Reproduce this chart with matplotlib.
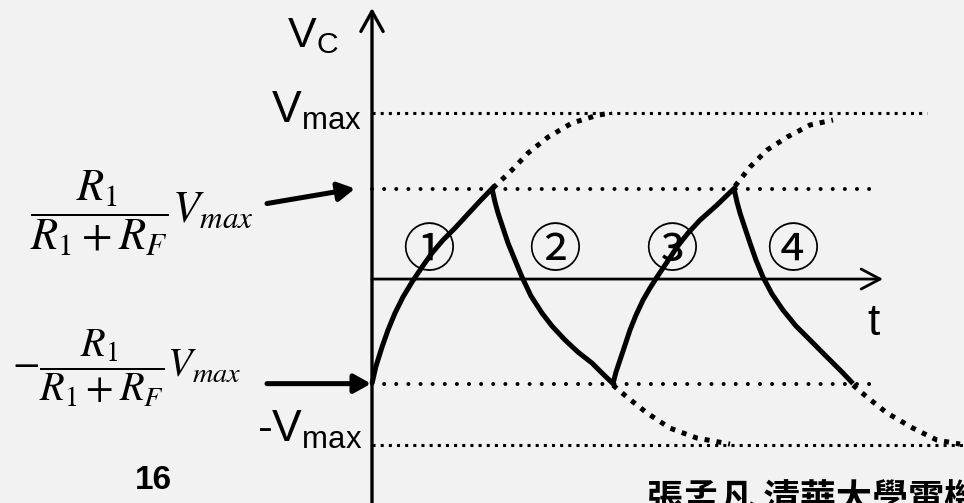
import matplotlib
matplotlib.use('Agg')
import matplotlib.pyplot as plt

plt.rcParams['font.family'] = ['Liberation Sans', 'DejaVu Sans']

# ---- levels ----
v_max = 1.0
v_min = -1.0
beta_hi = 0.545
beta_lo = -0.63
level_values = [v_max, beta_hi, beta_lo, v_min]
level_end_t = [5.55, 5.03, 5.03, 5.92]

# ---- solid capacitor-voltage segments (t, v) ----
seg1_t = [0.00, 0.04, 0.10, 0.16, 0.23, 0.31, 0.40, 0.50, 0.60, 0.71, 0.83, 0.96, 1.08, 1.20]
seg1_v = [-0.63, -0.524, -0.41, -0.307, -0.205, -0.108, -0.018, 0.072, 0.157, 0.235,
          0.307, 0.392, 0.47, 0.545]
seg2_t = [1.20, 1.23, 1.26, 1.31, 1.36, 1.43, 1.50, 1.59, 1.70, 1.80, 1.93, 2.06, 2.20, 2.31, 2.41]
seg2_v = [0.545, 0.464, 0.398, 0.307, 0.217, 0.114, 0.012, -0.102, -0.205, -0.283,
          -0.367, -0.44, -0.506, -0.572, -0.63]
seg3_t = [2.41, 2.44, 2.48, 2.53, 2.58, 2.64, 2.71, 2.78, 2.85, 2.95, 3.05, 3.16, 3.28, 3.45, 3.62]
seg3_v = [-0.63, -0.56, -0.488, -0.398, -0.307, -0.217, -0.127, -0.054, 0.012, 0.102,
          0.193, 0.277, 0.355, 0.446, 0.545]
seg4_t = [3.62, 3.65, 3.68, 3.73, 3.78, 3.84, 3.91, 4.00, 4.11, 4.24, 4.38, 4.50, 4.61, 4.71, 4.81]
seg4_v = [0.545, 0.464, 0.398, 0.307, 0.217, 0.114, 0.012, -0.090, -0.187, -0.283,
          -0.367, -0.44, -0.506, -0.566, -0.63]

# ---- dotted continuations (would-be charging curves) ----
cont1_t = [1.21, 1.40, 1.56, 1.76, 2.00, 2.26, 2.40]
cont1_v = [0.548, 0.657, 0.759, 0.855, 0.94, 0.988, 1.0]
cont2_t = [2.41, 2.55, 2.75, 2.98, 3.25, 3.58]
cont2_v = [-0.639, -0.711, -0.807, -0.898, -0.958, -0.994]
cont3_t = [3.63, 3.78, 3.95, 4.15, 4.38, 4.61]
cont3_v = [0.56, 0.675, 0.777, 0.855, 0.928, 0.958]
cont4_t = [4.81, 4.95, 5.15, 5.41, 5.65, 5.88]
cont4_v = [-0.639, -0.711, -0.807, -0.898, -0.97, -0.994]

# ---- labels ----
phase_labels = ['①', '②', '③', '④']
phase_t = [0.57, 1.83, 3.00, 4.21]
phase_v = 0.165

fig = plt.figure(figsize=(9.64, 5.03), dpi=100, facecolor='#f2f2f2')
ax = fig.add_axes([0, 0, 1, 1])
ax.set_xlim(-3.72, 5.92)
ax.set_ylim(-1.349, 1.681)
ax.axis('off')

# reference levels
sq_dots = (0, (1.0, 1.67))
round_dots = (0, (0.01, 3.0))
styles = [sq_dots, round_dots, round_dots, sq_dots]
widths = [2.2, 2.9, 2.9, 2.2]
caps = ['butt', 'round', 'round', 'butt']
for val, end, ls, lw, cap in zip(level_values, level_end_t, styles, widths, caps):
    ax.plot([0, end], [val, val], color='black', lw=lw, linestyle=ls,
            dash_capstyle=cap)

# dotted continuations
for tt, vv in [(cont1_t, cont1_v), (cont2_t, cont2_v), (cont3_t, cont3_v), (cont4_t, cont4_v)]:
    ax.plot(tt, vv, color='black', lw=3.6, linestyle=(0, (1.0, 1.4)),
            dash_capstyle='butt')

# solid waveform
solid_t = seg1_t + seg2_t[1:] + seg3_t[1:] + seg4_t[1:]
solid_v = seg1_v + seg2_v[1:] + seg3_v[1:] + seg4_v[1:]
ax.plot(solid_t, solid_v, color='black', lw=3.6, solid_joinstyle='miter',
        solid_capstyle='butt')

# axes arrows
ax.annotate('', xy=(0, 1.633), xytext=(0, -1.349),
            arrowprops=dict(arrowstyle='->,head_length=0.72,head_width=0.4',
                            lw=2.4, color='black', shrinkA=0, shrinkB=0,
                            mutation_scale=20))
ax.annotate('', xy=(5.11, 0), xytext=(0, 0),
            arrowprops=dict(arrowstyle='->,head_length=0.68,head_width=0.36',
                            lw=2.0, color='black', shrinkA=0, shrinkB=0,
                            mutation_scale=20))

# pointer arrows
ax.annotate('', xy=(-0.17, beta_hi), xytext=(-1.05, beta_hi - 0.09),
            arrowprops=dict(arrowstyle='-|>,head_length=0.5,head_width=0.28',
                            lw=3.6, color='black', shrinkA=0, shrinkB=0,
                            mutation_scale=20))
ax.annotate('', xy=(-0.01, beta_lo), xytext=(-1.05, beta_lo),
            arrowprops=dict(arrowstyle='-|>,head_length=0.5,head_width=0.28',
                            lw=3.6, color='black', shrinkA=0, shrinkB=0,
                            mutation_scale=20))

# axis labels
ax.text(-0.85, 1.398, r'$\mathregular{V_C}$', fontsize=31, ha='left', va='baseline')
ax.text(-0.10, 0.94, r'$\mathregular{V_{max}}$', fontsize=32, ha='right', va='baseline')
ax.text(-0.10, -0.982, r'-$\mathregular{V_{max}}$', fontsize=32, ha='right', va='baseline')
ax.text(5.02, -0.337, 't', fontsize=32, ha='center', va='baseline')

# formulas
ax.text(-3.42, 0.395, r'$\dfrac{R_1}{R_1+R_F}V_{max}$', fontsize=32,
        ha='left', va='center', math_fontfamily='stix')
ax.text(-3.60, -0.536, r'$-\dfrac{R_1}{R_1+R_F}V_{max}$', fontsize=29,
        ha='left', va='center', math_fontfamily='stix')

# phase markers
for lab, tt in zip(phase_labels, phase_t):
    ax.text(tt, phase_v, lab, fontsize=38, ha='center', va='center',
            family=['Noto Sans CJK JP', 'DejaVu Sans'])

# page number and footer
ax.text(-2.19, -1.211, '16', fontsize=24, fontweight='bold', ha='center', va='center')
ax.text(2.75, -1.392, '張孟凡 清華大學電機系', fontsize=26, fontweight='bold',
        ha='left', va='baseline', family=['Noto Sans CJK TC', 'DejaVu Sans'])

fig.savefig('out.png', dpi=100, facecolor=fig.get_facecolor())
